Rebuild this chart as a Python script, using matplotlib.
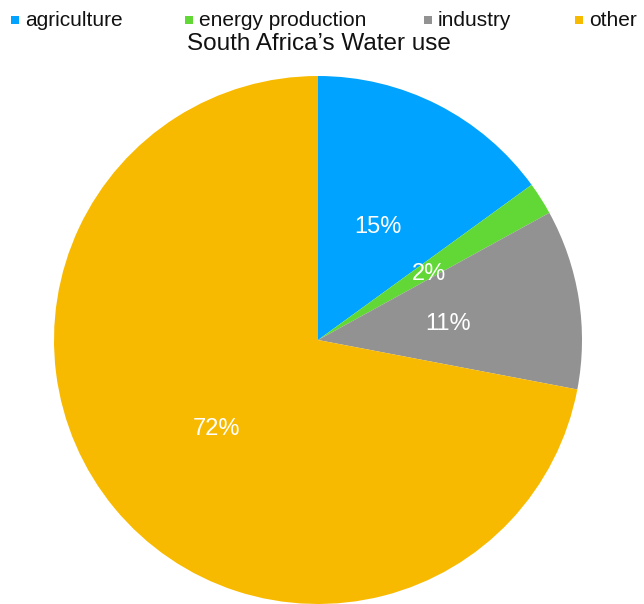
import matplotlib
matplotlib.use('Agg')
import matplotlib.pyplot as plt
from matplotlib.patches import Rectangle

# ── Data ───────────────────────────────────────────────────
categories = ['agriculture', 'energy production', 'industry', 'other']
shares     = [15, 2, 11, 72]
colors     = ['#00A3FF', '#62D836', '#929292', '#F8BA00']

plt.rcParams['font.family'] = ['Liberation Sans', 'DejaVu Sans']

W, H = 644, 604
fig = plt.figure(figsize=(W / 100, H / 100), dpi=100, facecolor='white')

# pie axes: centre (318, 340) px from top-left, radius 264 px
cx, cy, r = 318, 340, 264
ax = fig.add_axes([(cx - r) / W, (H - cy - r) / H, 2 * r / W, 2 * r / H])
wedges, _, autotexts = ax.pie(
    shares, colors=colors, startangle=90, counterclock=False,
    autopct='%1.0f%%', pctdistance=0.5,
    wedgeprops=dict(linewidth=0),
    textprops=dict(color='white', fontsize=17),
)
# labels sit a few pixels lower in the original
for t in autotexts:
    t.set_y(t.get_position()[1] - 5 / r)
ax.set_xlim(-1, 1)
ax.set_ylim(-1, 1)
ax.set_aspect('equal')
ax.axis('off')

# title
fig.text(319 / W, 1 - 44 / H, 'South Africa\u2019s Water use',
         ha='center', va='center', fontsize=17.5, color='#111111')

# legend, laid out like the original (uneven spacing)
leg_x = [11, 185, 424, 575]
leg_y = 20
sq = 8
for x, lab, col in zip(leg_x, categories, colors):
    fig.patches.append(Rectangle((x / W, 1 - (leg_y + sq / 2) / H),
                                 sq / W, sq / H, transform=fig.transFigure,
                                 facecolor=col, edgecolor='none'))
    fig.text((x + 14) / W, 1 - leg_y / H, lab, ha='left', va='center',
             fontsize=15, color='#111111')

fig.savefig('out.png', dpi=100, facecolor='white')
